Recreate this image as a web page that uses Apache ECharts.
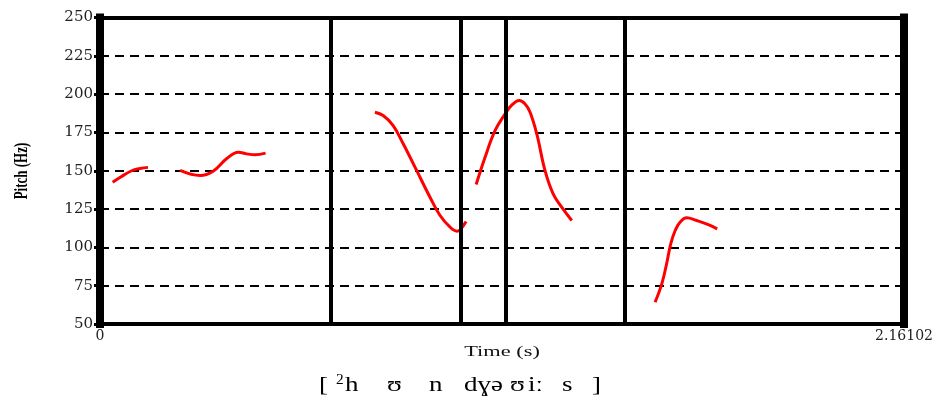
<!DOCTYPE html>
<html>
<head>
<meta charset="utf-8">
<script src="https://cdn.jsdelivr.net/npm/echarts@6/dist/echarts.min.js"></script>
<style>
  html, body { margin: 0; padding: 0; background: #fff; }
  #pitchChart { width: 941px; height: 396px; }
</style>
</head>
<body>
<div id="pitchChart"></div>
<script>
// time (s), pitch (Hz) for each voiced stretch
const pitchSeg1 = [[0.034, 142.5], [0.058, 146.2], [0.085, 150], [0.108, 151.5], [0.129, 152.2]];
const pitchSeg2 = [[0.215, 150.2], [0.269, 146.9], [0.304, 149.7], [0.340, 157.8], [0.372, 162.1], [0.394, 161], [0.417, 160.4], [0.445, 161.5]];
const pitchSeg3 = [[0.739, 188.2], [0.761, 186], [0.788, 179.5], [0.815, 167.6], [0.851, 150.2], [0.887, 132.7], [0.914, 120.8], [0.941, 113.2], [0.959, 110.6], [0.968, 111.5], [0.984, 116.9]];
const pitchSeg4 = [[1.011, 141], [1.035, 158.8], [1.062, 176.3], [1.089, 187.2], [1.106, 192.6], [1.127, 195.8], [1.142, 193.7], [1.156, 188.2], [1.174, 174], [1.196, 150.2], [1.218, 134.9], [1.241, 126.2], [1.268, 117.5]];
const pitchSeg5 = [[1.492, 64.2], [1.510, 76.2], [1.523, 89.3], [1.534, 102.3], [1.546, 111], [1.559, 116.4], [1.577, 119.3], [1.604, 117.5], [1.635, 114.9], [1.659, 112.1]];
// segment boundaries (s)
const boundaries = [0.6182, 0.9676, 1.0891, 1.4095];
const timeMax = 2.16102;
const pitchMin = 50;
const pitchMax = 250;
const pitchStep = 25;
// transcription pieces under the axis
const transcription = [
  { text: "[", x: 319 },
  { text: "h", x: 345 },
  { text: "\u028A", x: 387 },
  { text: "n", x: 429 },
  { text: "d\u0263\u0259", x: 464 },
  { text: "\u028A", x: 510 },
  { text: "i\u02D0", x: 528 },
  { text: "s", x: 562 },
  { text: "]", x: 592 },
];
const toneMark = "2";

let chart = echarts.init(document.getElementById("pitchChart"));

function pitchLine(data) {
  return {
    type: "line",
    data: data,
    showSymbol: false,
    smooth: 0.4,
    lineStyle: { color: "#ff0000", width: 3 },
    z: 2,
  };
}

let graphics = transcription.map((p) => ({
  type: "text",
  x: p.x,
  y: 386,
  scaleX: 1.35,
  style: {
    text: p.text,
    font: '20px "Liberation Serif", "DejaVu Serif", serif',
    fill: "#000",
    textAlign: "left",
    textVerticalAlign: "middle",
  },
}));
graphics.push({
  type: "text",
  x: 336,
  y: 380,
  scaleX: 1.1,
  style: {
    text: toneMark,
    font: '14px "Liberation Serif", serif',
    fill: "#000",
    textAlign: "left",
    textVerticalAlign: "middle",
  },
});
graphics.push({
  type: "text",
  x: 502,
  y: 352,
  scaleX: 1.6,
  style: {
    text: "Time (s)",
    font: '14px "Liberation Serif", serif',
    fill: "#111",
    textAlign: "center",
    textVerticalAlign: "middle",
  },
});
graphics.push({
  type: "text",
  x: 22,
  y: 171,
  rotation: Math.PI / 2,
  scaleY: 1.5,
  style: {
    text: "Pitch (Hz)",
    font: 'bold 13px "Liberation Serif", serif',
    fill: "#000",
    textAlign: "center",
    textVerticalAlign: "middle",
  },
});

let option = {
  animation: false,
  grid: { left: 100, right: 37, top: 17.5, bottom: 72 },
  xAxis: [
    {
      type: "value",
      min: 0,
      max: timeMax,
      interval: timeMax,
      axisLine: { onZero: false, lineStyle: { color: "#000", width: 4, cap: "square" } },
      axisTick: { show: false },
      splitLine: { show: false },
      axisLabel: {
        margin: 5,
        color: "#222",
        fontFamily: "DejaVu Serif",
        fontSize: 14,
        formatter: (v) => (v === 0 ? "0" : String(timeMax)),
      },
    },
    {
      type: "value",
      position: "top",
      min: 0,
      max: timeMax,
      axisLine: { onZero: false, lineStyle: { color: "#000", width: 4, cap: "square" } },
      axisTick: { show: false },
      axisLabel: { show: false },
      splitLine: { show: false },
    },
  ],
  yAxis: [
    {
      type: "value",
      min: pitchMin,
      max: pitchMax,
      interval: pitchStep,
      axisLine: { show: true, onZero: false, lineStyle: { color: "#000", width: 8, cap: "square" } },
      axisTick: { show: true, length: 6, lineStyle: { color: "#000", width: 3 } },
      axisLabel: {
        margin: 7,
        color: "#222",
        fontFamily: "DejaVu Serif",
        fontSize: 15,
      },
      splitLine: {
        show: true,
        lineStyle: { color: "#000", width: 2, type: [9, 6] },
      },
    },
    {
      type: "value",
      position: "right",
      min: pitchMin,
      max: pitchMax,
      interval: pitchStep,
      axisLine: { show: true, onZero: false, lineStyle: { color: "#000", width: 8, cap: "square" } },
      axisTick: { show: false },
      axisLabel: { show: false },
      splitLine: { show: false },
    },
  ],
  series: [
    pitchLine(pitchSeg1),
    pitchLine(pitchSeg2),
    pitchLine(pitchSeg3),
    pitchLine(pitchSeg4),
    pitchLine(pitchSeg5),
    {
      type: "line",
      data: [],
      z: 3,
      markLine: {
        silent: true,
        symbol: ["none", "none"],
        label: { show: false },
        lineStyle: { type: "solid", color: "#000", width: 4 },
        data: boundaries.map((t) => ({ xAxis: t })),
      },
    },
  ],
  graphic: graphics,
};

chart.setOption(option);
</script>
</body>
</html>
